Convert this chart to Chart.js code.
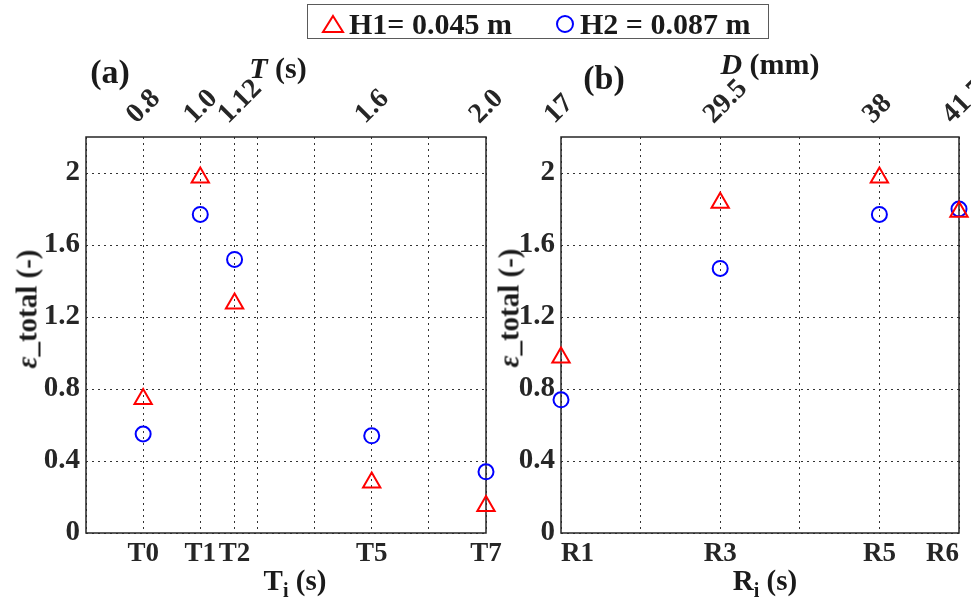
<!DOCTYPE html>
<html>
<head>
<meta charset="utf-8">
<script src="https://cdn.jsdelivr.net/npm/chart.js@4.4.1/dist/chart.umd.min.js"></script>
<style>
  body { margin: 0; background: #fff; }
  #wrap { position: relative; width: 971px; height: 603px; overflow: hidden;
          font-family: "Liberation Serif", "Times New Roman", serif; font-weight: bold; color: #1a1a1a; }
  canvas { position: absolute; top: 0; }
  #chartA { left: 0; }
  #chartB { left: 480px; }
  .lbl { position: absolute; white-space: nowrap; line-height: 1; transform: translate(-50%, -50%); }
  .rot { transform: translate(-50%, -50%) rotate(-90deg); }
  #legend { position: absolute; left: 307px; top: 4px; width: 462px; height: 35px;
            border: 1.5px solid #5a5a5a; box-sizing: border-box; background: #fff; }
  #legend span { position: absolute; top: 4px; font-size: 30px; line-height: 1; }
  #legend svg { position: absolute; }
</style>
</head>
<body>
<div id="wrap">
  <canvas id="chartA" width="520" height="603"></canvas>
  <canvas id="chartB" width="491" height="603"></canvas>

  <div id="legend">
    <svg style="left:13px;top:9px" width="24" height="20"><polygon points="12,2 22,18 2,18" fill="none" stroke="#ff0000" stroke-width="2"/></svg>
    <span style="left:41px">H1= 0.045 m</span>
    <svg style="left:247px;top:9px" width="20" height="20"><circle cx="10" cy="10" r="8" fill="none" stroke="#0000ff" stroke-width="2"/></svg>
    <span style="left:272px">H2 = 0.087 m</span>
  </div>

  <div class="lbl" style="left:110px;top:72px;font-size:34px">(a)</div>
  <div class="lbl" style="left:278px;top:68px;font-size:30px"><i>T</i> (s)</div>
  <div class="lbl" style="left:604px;top:78px;font-size:34px">(b)</div>
  <div class="lbl" style="left:770px;top:64px;font-size:30px"><i>D</i> (mm)</div>
  <div class="lbl" style="left:295px;top:583px;font-size:29px">T<sub style="font-size:20px">i</sub> (s)</div>
  <div class="lbl" style="left:765px;top:583px;font-size:29px">R<sub style="font-size:20px">i</sub> (s)</div>
  <div class="lbl rot" style="left:27px;top:309px;font-size:29px"><i>&epsilon;</i>_total (-)</div>
  <div class="lbl rot" style="left:509px;top:308px;font-size:29px"><i>&epsilon;</i>_total (-)</div>
</div>

<script>
// (a) wave period cases
const periods = [0.8, 1.0, 1.12, 1.6, 2.0];          // T (s), top axis
const periodLabels = ['0.8', '1.0', '1.12', '1.6', '2.0'];
const waveNames = ['T0', 'T1', 'T2', 'T5', 'T7'];    // bottom axis
const epsH1_T = [0.745, 1.975, 1.275, 0.28, 0.15];
const epsH2_T = [0.55, 1.77, 1.52, 0.54, 0.34];

// (b) diameter cases
const rockPos = [1, 3, 5, 6];
const rockNames = ['R1', 'R3', 'R5', 'R6'];
const diamLabels = ['17', '29.5', '38', '41.7'];     // D (mm), top axis
const epsH1_R = [0.975, 1.835, 1.975, 1.785];
const epsH2_R = [0.74, 1.47, 1.77, 1.80];

const tickFont = { family: 'Liberation Serif', size: 29, weight: 'bold' };
const xTickFont = { family: 'Liberation Serif', size: 27, weight: 'bold' };
const topFont = { family: 'Liberation Serif', size: 28, weight: 'bold' };
const txt = '#262626';
const gridColor = '#333';

const framePlugin = {
  id: 'frame',
  beforeDatasetsDraw(chart) {
    const { ctx, chartArea: a } = chart;
    ctx.save();
    ctx.strokeStyle = '#262626';
    ctx.lineWidth = 1.5;
    ctx.strokeRect(a.left, a.top, a.right - a.left, a.bottom - a.top);
    ctx.restore();
  }
};

function pts(xs, ys) {
  return xs.map((x, i) => ({ x: x, y: ys[i] }));
}

function idxOf(arr, v) {
  return arr.findIndex(p => Math.abs(p - v) < 1e-6);
}

function yScale(width) {
  return {
    min: 0, max: 2.2,
    ticks: {
      stepSize: 0.2, font: tickFont, color: txt, padding: 6,
      callback: v => { const k = Math.round(v * 10); return k % 4 === 0 ? String(k / 10) : ''; }
    },
    grid: { color: gridColor, drawTicks: false },
    border: { display: false, dash: [2, 4] },
    afterFit: s => { s.width = width; s.paddingTop = 0; s.paddingBottom = 0; }
  };
}

function makePanel(id, opts) {
  new Chart(document.getElementById(id), {
    type: 'scatter',
    data: {
      datasets: [
        {
          label: 'H1= 0.045 m', data: opts.h1,
          pointStyle: 'triangle', pointRadius: 10, pointHoverRadius: 10,
          borderColor: '#ff0000', backgroundColor: 'rgba(0,0,0,0)', borderWidth: 2, clip: false
        },
        {
          label: 'H2 = 0.087 m', data: opts.h2,
          pointStyle: 'circle', pointRadius: 7.5, pointHoverRadius: 7.5,
          borderColor: '#0000ff', backgroundColor: 'rgba(0,0,0,0)', borderWidth: 2, clip: false
        }
      ]
    },
    options: {
      responsive: false,
      animation: false,
      devicePixelRatio: 1,
      layout: { padding: { left: 0, top: 0, right: opts.padRight, bottom: 0 } },
      plugins: { legend: { display: false }, tooltip: { enabled: false } },
      scales: {
        x: {
          type: 'linear', position: 'bottom', min: opts.min, max: opts.max,
          afterBuildTicks: s => {
            const vals = s.ticks.map(t => Math.round(t.value * 100) / 100);
            opts.pos.forEach(p => { if (idxOf(vals, p) < 0) vals.push(p); });
            s.ticks = vals.sort((a, b) => a - b).map(v => ({ value: v }));
          },
          ticks: {
            stepSize: opts.step, autoSkip: false, maxRotation: 0, font: xTickFont, color: txt, padding: 5,
            align: opts.align,
            callback: v => { const i = idxOf(opts.pos, v); return i >= 0 ? opts.bottom[i] : ''; }
          },
          grid: { color: gridColor, drawTicks: false },
          border: { display: false, dash: [2, 4] },
          afterFit: s => { s.height = 70; s.paddingLeft = 0; s.paddingRight = 0; }
        },
        x2: {
          type: 'linear', position: 'top', min: opts.min, max: opts.max,
          afterBuildTicks: s => { s.ticks = opts.pos.map(v => ({ value: v })); },
          ticks: {
            autoSkip: false, minRotation: 45, maxRotation: 45, font: topFont, color: txt,
            padding: -2, labelOffset: 12,
            callback: v => { const i = idxOf(opts.pos, v); return i >= 0 ? opts.top[i] : ''; }
          },
          grid: { display: false },
          border: { display: false },
          afterFit: s => { s.height = 137; s.paddingLeft = 0; s.paddingRight = 0; }
        },
        y: yScale(opts.yWidth)
      }
    },
    plugins: [framePlugin]
  });
}

makePanel('chartA', {
  h1: pts(periods, epsH1_T), h2: pts(periods, epsH2_T),
  pos: periods, bottom: waveNames, top: periodLabels,
  min: 0.6, max: 2.0, step: 0.2, yWidth: 86, padRight: 34, align: 'center'
});

makePanel('chartB', {
  h1: pts(rockPos, epsH1_R), h2: pts(rockPos, epsH2_R),
  pos: rockPos, bottom: rockNames, top: diamLabels,
  min: 1, max: 6, step: 1, yWidth: 81, padRight: 11, align: 'inner'
});
</script>
</body>
</html>
